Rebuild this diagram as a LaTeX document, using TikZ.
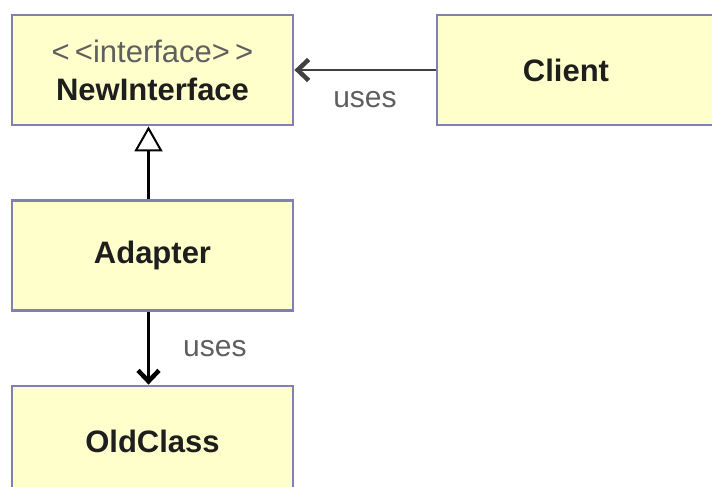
\documentclass[tikz,border=0pt]{standalone}
\usepackage{fontspec}
\setmainfont{Liberation Sans}
\usetikzlibrary{arrows.meta, positioning}
\definecolor{boxfill}{RGB}{255,255,204}
\definecolor{boxline}{RGB}{128,128,180}
\definecolor{labelgray}{RGB}{95,95,95}
\definecolor{namegray}{RGB}{30,30,30}

\tikzset{
  classbox/.style={draw=boxline, fill=boxfill, line width=2.8pt,
    minimum width=281pt, minimum height=110pt, inner sep=0pt, align=center,
    font=\fontsize{31}{38}\selectfont\bfseries, text=namegray},
  usesarrow/.style={-{Straight Barb[length=11pt,width=21pt,line width=4.5pt]}, line width=2.8pt},
  implarrow/.style={-{Triangle[open,length=25pt,width=28pt,line width=2pt]}, line width=2.5pt},
  useslabel/.style={font=\fontsize{30}{34}\selectfont, text=labelgray}
}

\begin{document}
\begin{tikzpicture}[x=1pt, y=-1pt]
  % Canvas
  \clip (0,0) rectangle (712,487);
  \fill[white] (0,0) rectangle (712,487);

  % Classes
  \node[classbox] (newif) at (152.5,70)
    {{\mdseries\color{labelgray}<\,<interface>\,>}\\NewInterface};
  \node[classbox, minimum width=300pt] (client) at (587,70) {\hspace*{-42pt}Client};
  \node[classbox] (adapter) at (152.5,255.5) {Adapter};
  \node[classbox] (oldclass) at (152.5,441) {OldClass};

  % Relations
  \draw[implarrow] ([xshift=-4pt]adapter.north) -- ([xshift=-4pt]newif.south);
  \draw[usesarrow, draw=black!75] (client.west) -- (newif.east)
    node[midway, below=17pt, useslabel] {uses};
  \draw[usesarrow] ([xshift=-4pt]adapter.south) -- ([xshift=-4pt]oldclass.north)
    node[midway, right=30pt, useslabel] {uses};
\end{tikzpicture}
\end{document}
